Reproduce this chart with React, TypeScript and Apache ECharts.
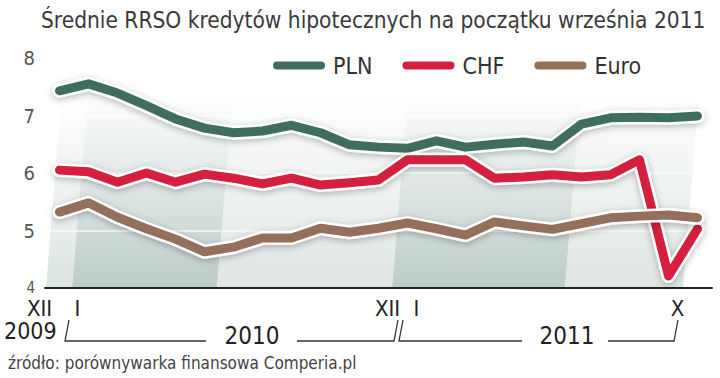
import React, { useEffect, useRef } from "react";
import * as echarts from "echarts";

const months = ["XII","I","II","III","IV","V","VI","VII","VIII","IX","X","XI","XII","I","II","III","IV","V","VI","VII","VIII","IX","X"];
const shownMonthIdx = [0, 1, 12, 13, 22];
const pln = [7.43,7.55,7.39,7.17,6.94,6.78,6.70,6.73,6.83,6.70,6.49,6.45,6.43,6.56,6.45,6.50,6.54,6.47,6.85,6.96,6.97,6.96,6.99];
const chf = [6.05,6.02,5.84,6.00,5.84,5.98,5.91,5.81,5.91,5.79,5.83,5.88,6.23,6.23,6.23,5.91,5.93,5.97,5.93,5.97,6.23,4.21,5.03];
const euro = [5.32,5.48,5.23,5.03,4.85,4.63,4.71,4.87,4.87,5.04,4.97,5.04,5.13,5.03,4.92,5.15,5.08,5.02,5.12,5.22,5.25,5.27,5.22];
const seriesNames = ["PLN", "CHF", "Euro"];
const seriesColors = ["#3f6d5e", "#d51f3e", "#946f59"];
const yTicks = [4, 5, 6, 7, 8];
const yearLabels = ["2009", "2010", "2011"];
const titleText = "Średnie RRSO kredytów hipotecznych na początku września 2011";
const sourceText = "źródło: porównywarka finansowa Comperia.pl";

const FONT = '"DejaVu Sans Condensed", "Roboto", sans-serif';

function stripe(x0: number, x1: number, rgb: string) {
  const yb = 288, yt = 92, slant = 16;
  return {
    type: "polygon",
    z: -10,
    silent: true,
    shape: { points: [[x0, yb], [x1, yb], [x1 + slant, yt], [x0 + slant, yt]] },
    style: {
      fill: {
        type: "linear", x: 0, y: 0, x2: 0, y2: 1,
        colorStops: [
          { offset: 0, color: `rgba(${rgb},0)` },
          { offset: 0.45, color: `rgba(${rgb},0.45)` },
          { offset: 1, color: `rgba(${rgb},1)` },
        ],
      },
    },
  };
}

export default function App() {
  const ref = useRef<HTMLDivElement>(null);
  useEffect(() => {
    if (!ref.current) return;
    const chart = echarts.init(ref.current, undefined, { renderer: "svg" });
    const data = [pln, chf, euro];
    const series: any[] = [];
    data.forEach((d, i) => {
      series.push({
        name: seriesNames[i] + "-outline",
        type: "line",
        data: d,
        symbol: "none",
        silent: true,
        color: "#ffffff",
        lineStyle: {
          color: "#ffffff", width: 14, cap: "round", join: "round",
          shadowColor: "rgba(0,0,0,0.28)", shadowBlur: 7, shadowOffsetY: 2,
        },
      });
      series.push({
        name: seriesNames[i],
        type: "line",
        data: d,
        symbol: "none",
        color: seriesColors[i],
        lineStyle: { color: seriesColors[i], width: 9, cap: "round", join: "round" },
      });
    });

    const lineStyle = { stroke: "#333", lineWidth: 1.3, fill: null };
    chart.setOption({
      animation: false,
      backgroundColor: "#ffffff",
      title: {
        text: titleText,
        left: 36,
        top: 3,
        textStyle: { fontFamily: FONT, fontSize: 22.5, fontWeight: "normal", color: "#3a3a3a" },
      },
      legend: {
        data: seriesNames,
        left: 268,
        top: 49,
        itemWidth: 52,
        itemHeight: 8,
        itemGap: 30,
        icon: "path://M4,0 L48,0 A4,4 0 0 1 48,8 L4,8 A4,4 0 0 1 4,0 Z",
        textStyle: { fontFamily: FONT, fontSize: 23, color: "#333", padding: [0, 0, 0, 3] },
      },
      grid: { left: 45, right: 8, top: 58, bottom: 90 },
      xAxis: {
        type: "category",
        data: months,
        boundaryGap: true,
        axisLine: { lineStyle: { color: "#222", width: 2 } },
        axisTick: { show: false },
        axisLabel: {
          interval: (idx: number) => shownMonthIdx.includes(idx),
          margin: 9,
          fontFamily: FONT,
          fontSize: 22,
          color: "#222",
          formatter: (v: string, idx: number) => (idx === 1 ? `{n|${v}}` : `{w|${v}}`),
          rich: {
            w: { fontFamily: FONT, fontSize: 22, color: "#222", padding: [0, 40, 0, 0] },
            n: { fontFamily: FONT, fontSize: 22, color: "#222", padding: [0, 22, 0, 0] },
          },
        },
      },
      yAxis: {
        type: "value",
        min: yTicks[0],
        max: yTicks[yTicks.length - 1],
        interval: 1,
        axisLine: { show: false },
        axisTick: { show: false },
        splitLine: { show: true, lineStyle: { color: "rgba(255,255,255,0.8)", width: 1.5 } },
        axisLabel: {
          fontFamily: FONT, fontSize: 20, color: "#555", margin: 10,
          formatter: (v: number) => (v === yTicks[0] ? `{s|${v}}` : `${v}`),
          rich: { s: { fontFamily: FONT, fontSize: 15, color: "#555" } },
        },
      },
      graphic: [
        stripe(46, 72, "220,229,227"),
        stripe(72, 217, "188,204,201"),
        stripe(217, 392, "222,230,228"),
        stripe(392, 565, "188,204,201"),
        stripe(565, 683, "222,230,228"),
        {
          type: "text", x: 4, y: 331, silent: true,
          style: { text: yearLabels[0], font: `23px ${FONT}`, fill: "#222", textVerticalAlign: "middle" },
        },
        {
          type: "text", x: 252, y: 336, silent: true,
          style: { text: yearLabels[1], font: `24px ${FONT}`, fill: "#222", textAlign: "center", textVerticalAlign: "middle" },
        },
        {
          type: "text", x: 567, y: 336, silent: true,
          style: { text: yearLabels[2], font: `24px ${FONT}`, fill: "#222", textAlign: "center", textVerticalAlign: "middle" },
        },
        { type: "polyline", silent: true, shape: { points: [[69, 320], [65, 341], [206, 341]] }, style: lineStyle },
        { type: "polyline", silent: true, shape: { points: [[297, 341], [394, 341], [398, 320]] }, style: lineStyle },
        { type: "polyline", silent: true, shape: { points: [[403, 320], [399, 341], [522, 341]] }, style: lineStyle },
        { type: "polyline", silent: true, shape: { points: [[608, 341], [674, 341], [678, 320]] }, style: lineStyle },
        {
          type: "text", x: 8, y: 363, silent: true,
          style: { text: sourceText, font: `17px ${FONT}`, fill: "#444", textVerticalAlign: "middle" },
        },
      ],
      series,
    });
    return () => chart.dispose();
  }, []);
  return (
    <div
      ref={ref}
      style={{ position: "fixed", left: 0, top: 0, width: 720, height: 378 }}
    />
  );
}
